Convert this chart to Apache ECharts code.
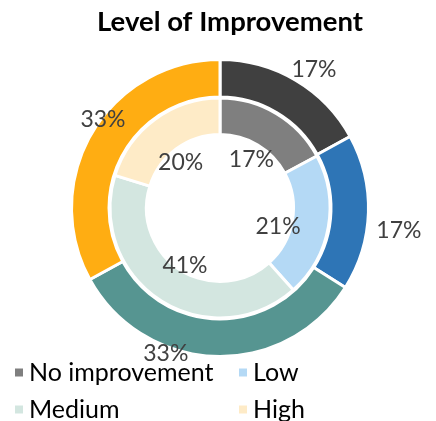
<!DOCTYPE html>
<html>
<head>
<meta charset="utf-8">
<script src="https://cdn.jsdelivr.net/npm/echarts@6/dist/echarts.min.js"></script>
<style>
html,body{margin:0;padding:0;background:#fff;}
#chart{width:436px;height:421px;}
</style>
</head>
<body>
<div id="chart"></div>
<script>
// ---- data ----
const categories = ['No improvement', 'Low', 'Medium', 'High'];
const outerValues = [17, 17, 33, 33];
const innerValues = [17, 21, 41, 20];
const titleText = 'Level of Improvement';

// ---- styles ----
const outerColors = ['#404040', '#2E75B6', '#569591', '#FFAD12'];
const innerColors = ['#7F7F7F', '#B4D9F5', '#D3E6E0', '#FEEBC7'];
const outerLabelOffsets = [[10, 4], [14, 17], [-49, -19], [25, -4]];
const innerLabelOffsets = [[-1, 6], [-4, 8], [-1, 5], [-2, 5]];
const FONT = 'Lato';
const center = [220, 208];

const chart = echarts.init(document.getElementById('chart'), null, {renderer: 'canvas'});

function ringData(values, colors) {
  return categories.map((n, i) => ({name: n, value: values[i], itemStyle: {color: colors[i]}}));
}
function labelData(values, offsets) {
  return categories.map((n, i) => ({name: n, value: values[i], label: {offset: offsets[i]}}));
}
const labelStyle = {
  show: true, position: 'inside', color: '#404040',
  fontFamily: FONT, fontSize: 23,
  formatter: p => p.value + '%'
};
const baseRing = {
  type: 'pie', center: center, startAngle: 90, clockwise: true,
  label: {show: false}, labelLine: {show: false},
  itemStyle: {borderColor: '#ffffff', borderWidth: 3},
  emphasis: {disabled: true}, animation: false, silent: true
};

chart.setOption({
  backgroundColor: '#ffffff',
  animation: false,
  title: {
    text: titleText, left: 230, top: 8, textAlign: 'center', padding: 0,
    textStyle: {fontFamily: FONT, fontWeight: 'bold', fontSize: 27.5, color: '#000000'}
  },
  legend: {
    data: categories, left: 13, top: 360, width: 450, orient: 'horizontal', padding: 0,
    icon: 'rect', itemWidth: 10, itemHeight: 10, itemGap: 12, itemTextGap: 11,
    selectedMode: false,
    textStyle: {fontFamily: FONT, fontSize: 25, color: '#000000', width: 196, height: 25, lineHeight: 25}
  },
  series: [
    Object.assign({}, baseRing, {name: 'inner', radius: [73.5, 110], data: ringData(innerValues, innerColors)}),
    Object.assign({}, baseRing, {name: 'outer', radius: [111, 148.5], data: ringData(outerValues, outerColors)}),
    Object.assign({}, baseRing, {
      name: 'innerLabels', radius: [0, 120], z: 5,
      itemStyle: {color: 'rgba(0,0,0,0)', borderWidth: 0},
      label: labelStyle, data: labelData(innerValues, innerLabelOffsets)
    }),
    Object.assign({}, baseRing, {
      name: 'outerLabels', radius: [150, 174], z: 5,
      itemStyle: {color: 'rgba(0,0,0,0)', borderWidth: 0},
      label: labelStyle, data: labelData(outerValues, outerLabelOffsets)
    })
  ]
});
</script>
</body>
</html>
